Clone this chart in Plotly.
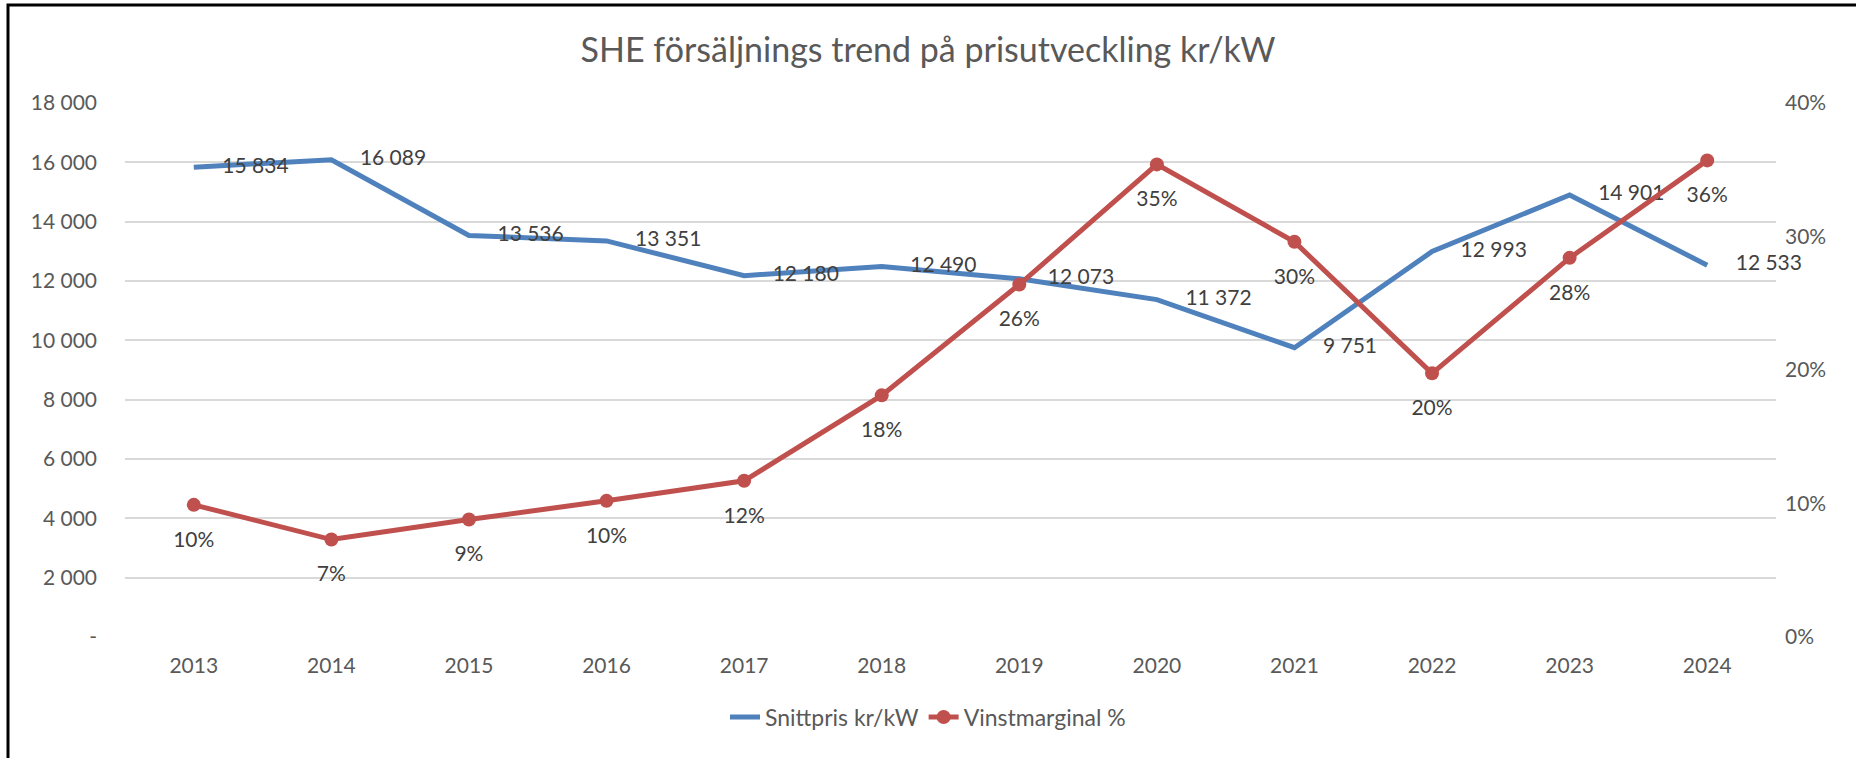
import plotly.graph_objects as go

years = ["2013", "2014", "2015", "2016", "2017", "2018", "2019", "2020", "2021", "2022", "2023", "2024"]
snittpris = [15834, 16089, 13536, 13351, 12180, 12490, 12073, 11372, 9751, 12993, 14901, 12533]
vinstmarginal = [9.9, 7.3, 8.8, 10.2, 11.7, 18.1, 26.4, 35.4, 29.6, 19.75, 28.4, 35.7]
left_tickvals = [0, 2000, 4000, 6000, 8000, 10000, 12000, 14000, 16000, 18000]
left_ticktext = ["-", "2 000", "4 000", "6 000", "8 000", "10 000", "12 000", "14 000", "16 000", "18 000"]
right_tickvals = [0, 10, 20, 30, 40]
right_ticktext = ["0%", "10%", "20%", "30%", "40%"]

FONT = "Lato, sans-serif"
BLUE = "#4F81BD"
RED = "#C0504D"
GRID = "#D9D9D9"
AXIS_TXT = "#595959"
LBL_TXT = "#404040"

blue_text = [f"{v:,}".replace(",", " ") for v in snittpris]
red_text = [f"{round(v)}%" for v in vinstmarginal]

fig = go.Figure()
fig.add_trace(go.Scatter(
    x=years, y=snittpris, name="Snittpris kr/kW", mode="lines",
    line=dict(color=BLUE, width=5), yaxis="y", hoverinfo="skip"))
fig.add_trace(go.Scatter(
    x=years, y=vinstmarginal, name="Vinstmarginal %", mode="lines+markers",
    line=dict(color=RED, width=5), marker=dict(color=RED, size=14), yaxis="y2",
    hoverinfo="skip"))
# data labels (transparent markers only used to offset the text)
fig.add_trace(go.Scatter(
    x=years, y=snittpris, mode="markers+text", text=blue_text, textposition="middle right",
    marker=dict(size=44, color="rgba(0,0,0,0)"), textfont=dict(family=FONT, size=21, color=LBL_TXT),
    showlegend=False, hoverinfo="skip", yaxis="y", cliponaxis=False))
fig.add_trace(go.Scatter(
    x=years, y=vinstmarginal, mode="markers+text", text=red_text, textposition="bottom center",
    marker=dict(size=40, color="rgba(0,0,0,0)"), textfont=dict(family=FONT, size=21, color=LBL_TXT),
    showlegend=False, hoverinfo="skip", yaxis="y2", cliponaxis=False))

fig.update_layout(
    width=1856, height=758,
    margin=dict(l=125, r=80, t=103, b=121),
    paper_bgcolor="white", plot_bgcolor="white",
    font=dict(family=FONT, size=21, color=AXIS_TXT),
    title=dict(text="SHE försäljnings trend på prisutveckling kr/kW", x=0.5, xref="container",
               xanchor="center", y=1 - 50 / 758, yanchor="middle",
               font=dict(family=FONT, size=34, color=AXIS_TXT)),
    xaxis=dict(type="category", categoryorder="array", categoryarray=years,
               range=[-0.5, 11.5], showgrid=False, showline=False, zeroline=False,
               ticks="", ticklabelstandoff=14, tickfont=dict(size=21, color=AXIS_TXT)),
    yaxis=dict(range=[0, 18000], tickvals=left_tickvals, ticktext=left_ticktext,
               showgrid=True, gridcolor=GRID, gridwidth=1.5, zeroline=False, showline=False,
               ticks="", ticklabelstandoff=27, tickfont=dict(size=21, color=AXIS_TXT)),
    yaxis2=dict(range=[0, 40], overlaying="y", side="right", tickvals=right_tickvals,
                ticktext=right_ticktext, showgrid=False, zeroline=False, showline=False,
                ticks="", ticklabelstandoff=8, tickfont=dict(size=21, color=AXIS_TXT)),
    legend=dict(orientation="h", x=(928 - 125) / 1651, xanchor="center",
                y=(637 - 717) / 534, yanchor="middle",
                font=dict(family=FONT, size=23, color=AXIS_TXT)),
    shapes=[dict(type="rect", xref="paper", yref="paper",
                 x0=(8 - 125) / 1651, x1=(1900 - 125) / 1651,
                 y0=(637 - 800) / 534, y1=(637 - 5) / 534,
                 line=dict(color="black", width=3), layer="below")],
)

fig.write_html("out.html", config={"displayModeBar": False},
               post_script="document.body.style.margin='0';")
